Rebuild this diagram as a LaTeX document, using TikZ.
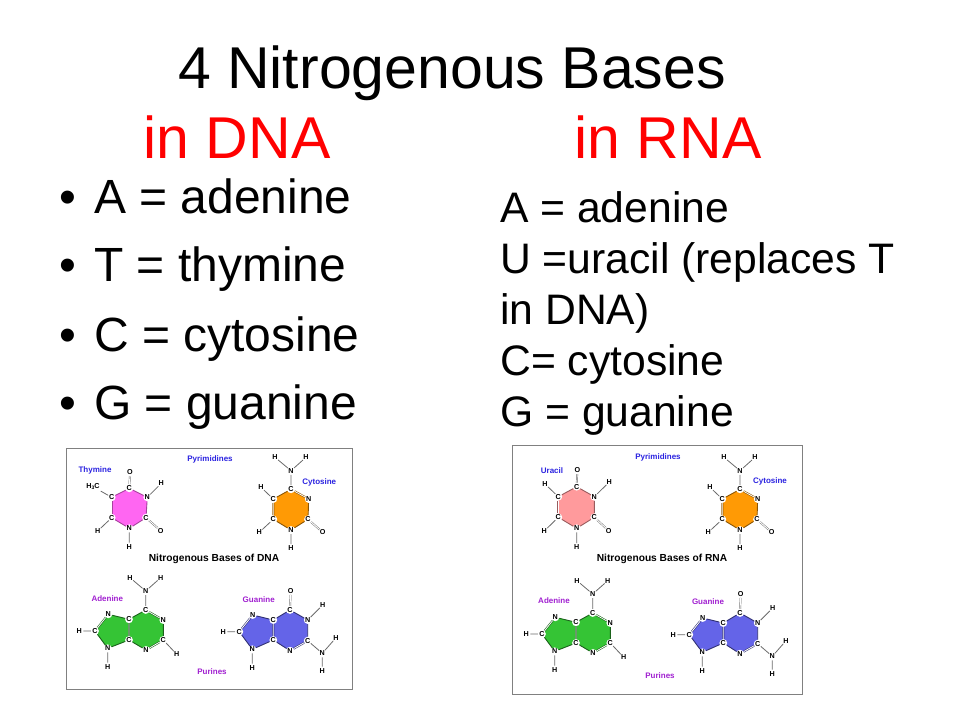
\documentclass[tikz,border=0pt]{standalone}
\usepackage{fontspec}
\setmainfont{Liberation Sans}
\usetikzlibrary{backgrounds}
\definecolor{labblue}{HTML}{2A22E0}
\definecolor{labpurple}{HTML}{A01FD0}
\definecolor{bondgray}{HTML}{6A6A6A}
\definecolor{panelgray}{HTML}{808080}
\definecolor{thyfill}{HTML}{FF66F2}
\definecolor{cytfill}{HTML}{FF9A05}
\definecolor{adefill}{HTML}{35C435}
\definecolor{guafill}{HTML}{6464E8}
\definecolor{urafill}{HTML}{FF9A9C}
\tikzset{
  atomn/.style={circle,fill=white,inner sep=0pt,minimum size=7.8pt,font=\fontsize{7.2}{8}\selectfont\bfseries},
  subst/.style={bondgray,line width=.8pt},
  subdbl/.style={bondgray,line width=.45pt,double=white,double distance=.9pt},
  ringb/.style={line width=.9pt},
  ringd/.style={line width=.55pt,double=white,double distance=.8pt},
  panel/.style={draw=panelgray,line width=1pt},
  head/.style={anchor=base,font=\fontsize{59}{59}\selectfont},
  bul/.style={anchor=base west,inner sep=0pt,font=\fontsize{48}{48}\selectfont},
  moltitle/.style={font=\fontsize{8}{9}\selectfont\bfseries},
  bluelab/.style={moltitle,text=labblue},
  purplab/.style={moltitle,text=labpurple},
  captionb/.style={font=\fontsize{10.2}{12}\selectfont\bfseries}
}
\newcommand\atm[4]{\node[atomn] (#1) at (#2,#3) {#4};}
% pyrimidine ring: a top, b upper right, c lower right, d bottom, e lower left, f upper left
\newcommand\ringsix[2]{%
  \begin{pgfonlayer}{background}
    \fill[#2] (#1a.center) -- (#1b.center) -- (#1c.center) -- (#1d.center) -- (#1e.center) -- (#1f.center) -- cycle;
  \end{pgfonlayer}}
\newcommand\Thy[1]{%
  \atm{#1a}{129.3}{488.3}{C}\atm{#1b}{147.3}{497.3}{N}\atm{#1c}{146}{517.7}{C}
  \atm{#1d}{129.3}{528.3}{N}\atm{#1e}{111.7}{517.7}{C}\atm{#1f}{111.7}{497.3}{C}
  \atm{#1o}{130}{472.3}{O}\atm{#1p}{160.7}{530.7}{O}\atm{#1h}{161.3}{483.3}{H}\atm{#1i}{129.3}{546.7}{H}\atm{#1j}{97.7}{531}{H}
  \node[atomn,minimum size=0pt,inner sep=1pt] (#1m) at (93,486.7) {H\raisebox{-1.4pt}{\scalebox{.7}{3}}C};
  \ringsix{#1}{thyfill}
  \draw[thyfill!65!black,ringb] (#1a)--(#1b) (#1b)--(#1c) (#1c)--(#1d) (#1d)--(#1e) (#1f)--(#1a);
  \draw[thyfill!65!black,ringd] (#1e)--(#1f);
  \draw[subdbl] (#1a)--(#1o) (#1c)--(#1p);
  \draw[subst] (#1b)--(#1h) (#1d)--(#1i) (#1e)--(#1j) (#1f)--(#1m);
}
\newcommand\Ura[1]{%
  \atm{#1a}{576.7}{486.7}{C}\atm{#1b}{594.3}{496.7}{N}\atm{#1c}{594.3}{517.3}{C}
  \atm{#1d}{576.7}{528.3}{N}\atm{#1e}{558.3}{517.3}{C}\atm{#1f}{558.3}{496.7}{C}
  \atm{#1o}{577.3}{470}{O}\atm{#1p}{608.7}{530.7}{O}\atm{#1h}{609.3}{482}{H}\atm{#1i}{576.7}{547.3}{H}\atm{#1j}{544.3}{531}{H}\atm{#1m}{545}{484}{H}
  \ringsix{#1}{urafill}
  \draw[urafill!60!black,ringb] (#1a)--(#1b) (#1b)--(#1c) (#1c)--(#1d) (#1d)--(#1e) (#1f)--(#1a);
  \draw[urafill!60!black,ringd] (#1e)--(#1f);
  \draw[subdbl] (#1a)--(#1o) (#1c)--(#1p);
  \draw[subst] (#1b)--(#1h) (#1d)--(#1i) (#1e)--(#1j) (#1f)--(#1m);
}
\newcommand\Cyt[1]{%
  \atm{#1a}{291}{489.3}{C}\atm{#1b}{308.7}{499}{N}\atm{#1c}{308}{519.3}{C}
  \atm{#1d}{291}{530}{N}\atm{#1e}{273.3}{519.3}{C}\atm{#1f}{273.3}{499}{C}
  \atm{#1n}{291}{470.7}{N}\atm{#1h}{275}{457.3}{H}\atm{#1i}{306}{457.3}{H}
  \atm{#1p}{322.7}{532.3}{O}\atm{#1j}{291}{548.3}{H}\atm{#1k}{259.3}{532.3}{H}\atm{#1l}{261}{487.3}{H}
  \ringsix{#1}{cytfill}
  \draw[cytfill!55!black,ringb] (#1b)--(#1c) (#1c)--(#1d) (#1d)--(#1e) (#1f)--(#1a);
  \draw[cytfill!55!black,ringd] (#1e)--(#1f) (#1a)--(#1b);
  \draw[subdbl] (#1c)--(#1p);
  \draw[subst] (#1a)--(#1n) (#1n)--(#1h) (#1n)--(#1i) (#1d)--(#1j) (#1e)--(#1k) (#1f)--(#1l);
}
\newcommand\Ade[1]{%
  \atm{#1a}{145.7}{610}{C}\atm{#1b}{163.3}{620}{N}\atm{#1c}{163.3}{640}{C}\atm{#1d}{146}{650}{N}
  \atm{#1e}{129}{640}{C}\atm{#1f}{129}{619.3}{C}\atm{#1g}{108.3}{614.3}{N}\atm{#1q}{95}{631}{C}\atm{#1r}{107.7}{648.3}{N}
  \atm{#1n}{145.7}{591}{N}\atm{#1h}{130}{577.7}{H}\atm{#1i}{160.7}{577.7}{H}
  \atm{#1j}{79.3}{631}{H}\atm{#1k}{107.7}{666.7}{H}\atm{#1l}{176.7}{654.3}{H}
  \begin{pgfonlayer}{background}
    \fill[adefill] (#1a.center) -- (#1b.center) -- (#1c.center) -- (#1d.center) -- (#1e.center) -- (#1r.center) -- (#1q.center) -- (#1g.center) -- (#1f.center) -- cycle;
  \end{pgfonlayer}
  \draw[adefill!50!black,ringb] (#1f)--(#1a) (#1b)--(#1c) (#1d)--(#1e) (#1e)--(#1r) (#1r)--(#1q) (#1g)--(#1f);
  \draw[adefill!50!black,ringd] (#1a)--(#1b) (#1c)--(#1d) (#1e)--(#1f) (#1q)--(#1g);
  \draw[subst] (#1a)--(#1n) (#1n)--(#1h) (#1n)--(#1i) (#1q)--(#1j) (#1r)--(#1k) (#1c)--(#1l);
}
\newcommand\Gua[1]{%
  \atm{#1a}{290}{610}{C}\atm{#1b}{307.7}{620}{N}\atm{#1c}{307.7}{640.7}{C}\atm{#1d}{290}{650.7}{N}
  \atm{#1e}{273.3}{640}{C}\atm{#1f}{273.3}{620}{C}\atm{#1g}{252.7}{615}{N}\atm{#1q}{239.3}{631.7}{C}\atm{#1r}{252.3}{649.3}{N}
  \atm{#1o}{290.7}{590.7}{O}\atm{#1h}{322.7}{605}{H}\atm{#1n}{322.3}{653.3}{N}\atm{#1i}{336}{637.7}{H}\atm{#1j}{322.3}{670.7}{H}
  \atm{#1k}{223.3}{631.7}{H}\atm{#1l}{252.3}{667.7}{H}
  \begin{pgfonlayer}{background}
    \fill[guafill] (#1a.center) -- (#1b.center) -- (#1c.center) -- (#1d.center) -- (#1e.center) -- (#1r.center) -- (#1q.center) -- (#1g.center) -- (#1f.center) -- cycle;
  \end{pgfonlayer}
  \draw[guafill!50!black,ringb] (#1f)--(#1a) (#1a)--(#1b) (#1b)--(#1c) (#1d)--(#1e) (#1e)--(#1r) (#1r)--(#1q) (#1g)--(#1f);
  \draw[guafill!50!black,ringd] (#1c)--(#1d) (#1e)--(#1f) (#1q)--(#1g);
  \draw[subdbl] (#1a)--(#1o);
  \draw[subst] (#1b)--(#1h) (#1c)--(#1n) (#1n)--(#1i) (#1n)--(#1j) (#1q)--(#1k) (#1r)--(#1l);
}
\begin{document}
\begin{tikzpicture}[x=1pt,y=-1pt]
\useasboundingbox (0,0) rectangle (960,720);
% headings
\node[head] (title) at (452,88) {4 Nitrogenous Bases};
\node[head,text=red] (indna) at (237,158) {in DNA};
\node[head,text=red] (inrna) at (668,158) {in RNA};
% DNA list
\node[bul] (b1) at (59,213) {•};
\node[bul] (b2) at (59,281) {•};
\node[bul] (b3) at (59,351) {•};
\node[bul] (b4) at (59,419) {•};
\node[bul] (l1) at (94,213) {A = adenine};
\node[bul] (l2) at (94,281) {T = thymine};
\node[bul] (l3) at (94,351) {C = cytosine};
\node[bul] (l4) at (94,419) {G = guanine};
% RNA list
\node[anchor=north west,align=left,inner sep=0pt,font=\fontsize{42.67}{51.2}\selectfont] (rnalist) at (500,191) {A = adenine\\U =uracil (replaces T\\in DNA)\\C= cytosine\\G = guanine};
% panels
\node[panel,minimum width=286pt,minimum height=241pt,inner sep=0pt] (pdna) at (209,568.5) {};
\node[panel,minimum width=290pt,minimum height=249pt,inner sep=0pt] (prna) at (657,569.5) {};
% DNA panel
\Thy{t}
\Cyt{c}
\Ade{a}
\Gua{g}
\node[bluelab] (lthy) at (95,470.7) {Thymine};
\node[bluelab] (lpyd) at (210,459) {Pyrimidines};
\node[bluelab] (lcyt) at (319.3,482.3) {Cytosine};
\node[captionb] (capd) at (214,559) {Nitrogenous Bases of DNA};
\node[purplab] (lade) at (107.3,598.3) {Adenine};
\node[purplab] (lgua) at (258.7,599.7) {Guanine};
\node[purplab] (lpud) at (212,672) {Purines};
% RNA panel
\Ura{u}
\begin{scope}[shift={(449,0)}]\Cyt{rc}\end{scope}
\begin{scope}[shift={(447,3)}]\Ade{ra}\end{scope}
\begin{scope}[shift={(450,3)}]\Gua{rg}\end{scope}
\node[bluelab] (lura) at (552,470.7) {Uracil};
\node[bluelab] (lpyr) at (658,457) {Pyrimidines};
\node[bluelab] (lcyr) at (770,481) {Cytosine};
\node[captionb] (capr) at (662,559) {Nitrogenous Bases of RNA};
\node[purplab] (lader) at (554,600.5) {Adenine};
\node[purplab] (lguar) at (708,601.7) {Guanine};
\node[purplab] (lpur) at (660,676) {Purines};
\end{tikzpicture}
\end{document}
